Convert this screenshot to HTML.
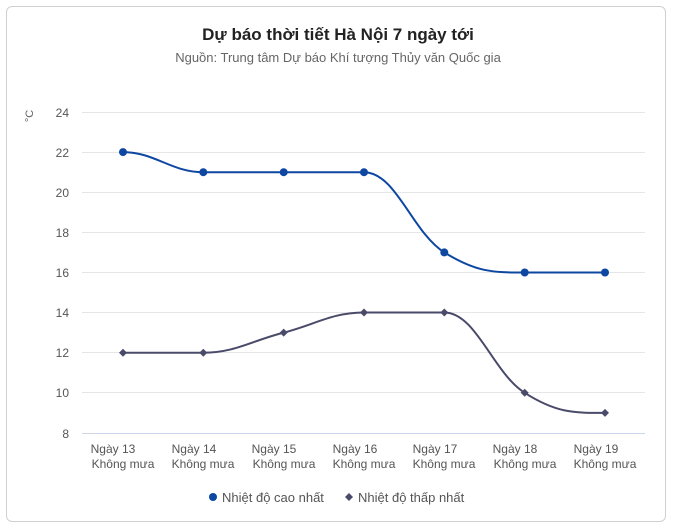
<!DOCTYPE html>
<html><head><meta charset="utf-8"><style>
html,body{margin:0;padding:0;background:#fff;width:676px;height:531px;overflow:hidden}
.card{position:absolute;left:6px;top:6px;width:660px;height:516px;border:1px solid #d0d0d0;border-radius:6px;box-sizing:border-box}
svg{position:absolute;left:0;top:0}
text{font-family:"Liberation Sans",sans-serif}
</style></head><body>
<div class="card"></div>
<svg width="676" height="531" viewBox="0 0 676 531">
<text x="338" y="40" text-anchor="middle" font-size="17" font-weight="bold" fill="#222">Dự báo thời tiết Hà Nội 7 ngày tới</text>
<text x="338" y="62" text-anchor="middle" font-size="13" fill="#666">Nguồn: Trung tâm Dự báo Khí tượng Thủy văn Quốc gia</text>
<g stroke="#e6e6e6" stroke-width="1">
<line x1="82" x2="645" y1="112.5" y2="112.5"/><line x1="82" x2="645" y1="152.5" y2="152.5"/>
<line x1="82" x2="645" y1="192.5" y2="192.5"/><line x1="82" x2="645" y1="232.5" y2="232.5"/>
<line x1="82" x2="645" y1="272.5" y2="272.5"/><line x1="82" x2="645" y1="312.5" y2="312.5"/>
<line x1="82" x2="645" y1="352.5" y2="352.5"/><line x1="82" x2="645" y1="392.5" y2="392.5"/>
</g>
<line x1="82" x2="645" y1="433.5" y2="433.5" stroke="#ccd6eb"/>
<g font-size="12" fill="#555" text-anchor="end">
<text x="69" y="117">24</text><text x="69" y="157">22</text><text x="69" y="197">20</text>
<text x="69" y="237">18</text><text x="69" y="277">16</text><text x="69" y="317">14</text>
<text x="69" y="357">12</text><text x="69" y="397">10</text><text x="69" y="438">8</text>
</g>
<text transform="translate(33,116) rotate(-90)" font-size="11" fill="#666" text-anchor="middle">°C</text>
<g font-size="12" fill="#555" text-anchor="middle">
<text x="113" y="453">Ngày 13</text><text x="123" y="468">Không mưa</text>
<text x="194" y="453">Ngày 14</text><text x="203" y="468">Không mưa</text>
<text x="274" y="453">Ngày 15</text><text x="284" y="468">Không mưa</text>
<text x="355" y="453">Ngày 16</text><text x="364" y="468">Không mưa</text>
<text x="435" y="453">Ngày 17</text><text x="444" y="468">Không mưa</text>
<text x="515" y="453">Ngày 18</text><text x="525" y="468">Không mưa</text>
<text x="596" y="453">Ngày 19</text><text x="605" y="468">Không mưa</text>
</g>
<path d="M123,152.1 C155,152.1 171,172.2 203.3,172.2 L364,172.2 C396,172.2 412,232 444.3,252.4 C476,272 492,272.5 524.7,272.5 L605,272.5" fill="none" stroke="#0d47a1" stroke-width="2"/>
<path d="M123,352.7 L203.3,352.7 C235,352.7 252,340.6 283.7,332.6 C315,324.6 332,312.5 364,312.5 L444.3,312.5 C476,312.5 493,372.8 524.7,392.8 C556,412.8 573,412.9 605,412.9" fill="none" stroke="#4a4a6a" stroke-width="2"/>
<g fill="#0d47a1">
<circle cx="123" cy="152.1" r="4"/><circle cx="203.3" cy="172.2" r="4"/><circle cx="283.7" cy="172.2" r="4"/>
<circle cx="364" cy="172.2" r="4"/><circle cx="444.3" cy="252.4" r="4"/><circle cx="524.7" cy="272.5" r="4"/><circle cx="605" cy="272.5" r="4"/>
</g>
<g fill="#4a4a6a">
<path d="M123,348.7l4,4l-4,4l-4,-4z"/><path d="M203.3,348.7l4,4l-4,4l-4,-4z"/><path d="M283.7,328.6l4,4l-4,4l-4,-4z"/>
<path d="M364,308.5l4,4l-4,4l-4,-4z"/><path d="M444.3,308.5l4,4l-4,4l-4,-4z"/><path d="M524.7,388.8l4,4l-4,4l-4,-4z"/><path d="M605,408.9l4,4l-4,4l-4,-4z"/>
</g>
<circle cx="213" cy="497" r="4" fill="#0d47a1"/>
<text x="222" y="502" font-size="13" fill="#555">Nhiệt độ cao nhất</text>
<path d="M349,493l4,4l-4,4l-4,-4z" fill="#4a4a6a"/>
<text x="358" y="502" font-size="13" fill="#555">Nhiệt độ thấp nhất</text>
</svg>
</body></html>
